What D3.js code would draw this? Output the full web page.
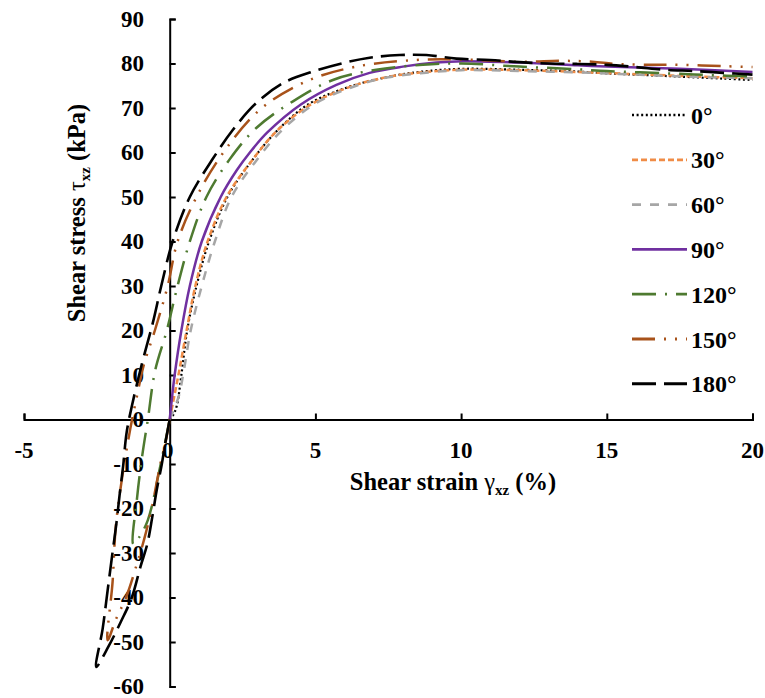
<!DOCTYPE html>
<html>
<head>
<meta charset="utf-8">
<script src="https://cdn.jsdelivr.net/npm/d3@7"></script>
<style>
  html, body { margin: 0; padding: 0; background: #fff; }
  svg { display: block; }
</style>
</head>
<body>
<script>
// ---------- data ----------
const xTicks = [-5, 0, 5, 10, 15, 20];
const yTicks = [-60, -50, -40, -30, -20, -10, 0, 10, 20, 30, 40, 50, 60, 70, 80, 90];
const seriesNames = ["0°", "30°", "60°", "90°", "120°", "150°", "180°"];

const strain0 = [0, 0.12, 0.24, 0.4, 0.6, 0.92, 1.35, 1.98, 2.8, 3.7, 4.8, 6.18, 7.5, 8.69, 10, 12, 14, 15, 17, 19, 20];
const stress0 = [0, 1, 3, 10, 20, 30, 40, 50, 58, 65, 71, 74.8, 77, 78.2, 78.8, 78.6, 78.2, 77.8, 77.2, 76.6, 76.3];

const strain30 = [0, 0.15, 0.3, 0.58, 0.88, 1.3, 1.95, 2.8, 3.7, 4.9, 6.3, 7.5, 8.5, 10, 12, 14, 16, 18, 20];
const stress30 = [0, 5, 10, 20, 30, 40, 50, 58, 65, 71, 75, 77, 77.9, 78.6, 78.5, 78.1, 77.6, 77.1, 76.7];

const strain60 = [0, 0.3, 0.46, 0.72, 1.1, 1.55, 2.12, 2.95, 3.85, 5.0, 6.4, 7.5, 8.6, 10, 12, 14, 16, 18, 20];
const stress60 = [0, 5, 10, 20, 30, 40, 50, 58, 65, 71, 75, 76.9, 77.8, 78.5, 78.3, 78, 77.5, 77, 76.7];

const strain90 = [0, 0.08, 0.17, 0.4, 0.69, 1.1, 1.75, 2.3, 2.75, 3.35, 4.5, 5.72, 6.86, 8.0, 9.15, 10.07, 12, 14, 15, 17.5, 20];
const stress90 = [0, 5, 10, 20, 30, 40, 50, 56, 60, 64.5, 70.8, 75.2, 77.9, 79.3, 80.2, 80.5, 80.2, 79.6, 79.3, 78.8, 78.1];

const strain120 = [0, -0.34, -0.75, -1.05, -1.25, -1.12, -0.94, -0.75, -0.5, -0.1, 0.27, 0.69, 1.26, 2.05, 2.97, 4.23, 5.6, 7.09, 8.69, 10, 12, 14, 15, 17, 18.5, 20];
const stress120 = [0, -11, -22.6, -26.5, -28, -17.6, -8, 0, 11, 20, 30, 40, 50, 58.4, 65.5, 71.5, 76.3, 78.6, 79.7, 80, 79.3, 78.7, 78.3, 77.8, 77.4, 77.1];

const strain150 = [0, -0.17, -0.32, -0.62, -0.88, -1.15, -1.5, -1.85, -2.13, -1.96, -1.85, -1.62, -1.35, -1.1, -0.9, -0.51, -0.07, 0.27, 0.92, 1.83, 3.09, 4.69, 6.4, 8.47, 10, 12, 13.5, 14.5, 15.3, 16.5, 17.5, 19, 20];
const stress150 = [0, -6, -10, -20, -27, -33, -40, -45, -49.6, -36.5, -24, -12.5, -2, 6, 12, 20, 30, 40, 50, 59.9, 69.6, 76, 79.3, 80.8, 80.9, 80.4, 80.6, 80.4, 79.9, 79.7, 79.7, 79.4, 79.2];

const strain180 = [0, -0.17, -0.27, -0.45, -0.6, -0.77, -1.0, -1.3, -1.68, -2.1, -2.52, -2.3, -2.13, -1.96, -1.83, -1.72, -1.6, -1.48, -1.3, -0.95, -0.58, -0.29, 0.1, 0.69, 1.45, 2.17, 2.97, 3.89, 4.92, 5.95, 6.86, 7.89, 8.81, 9.84, 11, 12, 13, 14, 15, 16, 17, 18, 19, 20];
const stress180 = [0, -6, -10, -16, -22, -28, -33, -40, -45.5, -51, -55.6, -47, -38.4, -29.8, -23.4, -17, -10.6, -3, 3, 12.6, 21.7, 30, 40, 50, 58.3, 65.1, 71.1, 75.6, 78.2, 80.1, 81.3, 81.9, 81.9, 81.1, 80.8, 80.3, 80, 79.9, 79.7, 79.2, 78.6, 78.3, 77.9, 77.5];

const strains = [strain0, strain30, strain60, strain90, strain120, strain150, strain180];
const stresses = [stress0, stress30, stress60, stress90, stress120, stress150, stress180];

// ---------- styles ----------
const FONT = "'Liberation Serif', 'Times New Roman', Times, 'DejaVu Serif', serif";
const colors = ["#000000", "#F08C46", "#A6A6A6", "#7030A0", "#4E7A30", "#A8521A", "#000000"];
const dashes = ["2,2.6", "6,3", "9,9", null, "24,9,2,9", "23,9,2,9,2,9", "24,8"];
const widths = [2.2, 2.5, 2.5, 2.5, 2.5, 2.5, 2.6];

const W = 765, H = 698;
const svg = d3.select("body").append("svg").attr("width", W).attr("height", H)
  .attr("font-family", FONT).attr("font-weight", "bold");

const x = d3.scaleLinear().domain([-5, 20]).range([24, 752.5]);
const y = d3.scaleLinear().domain([-60, 90]).range([686.5, 19]);

// axes
const xAxisG = svg.append("g").attr("transform", `translate(0,${y(0)})`)
  .call(d3.axisTop(x).tickValues(xTicks).tickSize(6).tickFormat(""));
const yAxisG = svg.append("g").attr("transform", `translate(${x(0)},0)`)
  .call(d3.axisRight(y).tickValues(yTicks).tickSize(6).tickFormat(""));
[xAxisG, yAxisG].forEach(g => {
  g.attr("font-family", null).attr("font-size", null);
  g.select(".domain").attr("stroke", "#000").attr("stroke-width", 2);
  g.selectAll(".tick line").attr("stroke", "#000").attr("stroke-width", 2);
});

function txt(sel) {
  return sel.style("font-family", FONT).style("font-weight", "bold").attr("fill", "#000");
}

// tick labels
txt(svg.append("g").selectAll("text").data(xTicks).join("text")
  .attr("x", d => x(d) - (d === 0 ? 2 : 0)).attr("y", 458)
  .attr("text-anchor", "middle").attr("font-size", 23).text(d => d));
txt(svg.append("g").selectAll("text").data(yTicks).join("text")
  .attr("x", 144).attr("y", d => y(d) + 7.8)
  .attr("text-anchor", "end").attr("font-size", 23).text(d => d));

// curves
const line = d3.line().x(d => x(d[0])).y(d => y(d[1])).curve(d3.curveCatmullRom.alpha(0.5));
strains.forEach((s, i) => {
  const pts = s.map((v, j) => [v, stresses[i][j]]);
  svg.append("path").datum(pts)
    .attr("d", line)
    .attr("fill", "none")
    .attr("stroke", colors[i])
    .attr("stroke-width", widths[i])
    .attr("stroke-dasharray", dashes[i]);
});

// legend
const leg = svg.append("g");
seriesNames.forEach((n, i) => {
  const cy = 115 + i * 44.8;
  leg.append("line").attr("x1", 632).attr("x2", 687).attr("y1", cy).attr("y2", cy)
    .attr("stroke", colors[i]).attr("stroke-width", widths[i] + 0.3)
    .attr("stroke-dasharray", dashes[i]);
  txt(leg.append("text").attr("x", 691).attr("y", cy + 8.5).attr("font-size", 24).text(n));
});

// axis titles
const xt = txt(svg.append("text").attr("x", 453).attr("y", 490).attr("text-anchor", "middle").attr("font-size", 24.5));
xt.append("tspan").text("Shear strain ");
xt.append("tspan").style("font-weight", "normal").text("γ");
xt.append("tspan").attr("font-size", 15).attr("dy", 5).text("xz");
xt.append("tspan").attr("dy", -5).text(" (%)");

const yt = txt(svg.append("text").attr("transform", "translate(85,213) rotate(-90)")
  .attr("text-anchor", "middle").attr("font-size", 24.5));
yt.append("tspan").text("Shear stress ");
yt.append("tspan").style("font-weight", "normal").text("τ");
yt.append("tspan").attr("font-size", 15).attr("dy", 5).text("xz");
yt.append("tspan").attr("dy", -5).text(" (kPa)");
</script>
</body>
</html>
